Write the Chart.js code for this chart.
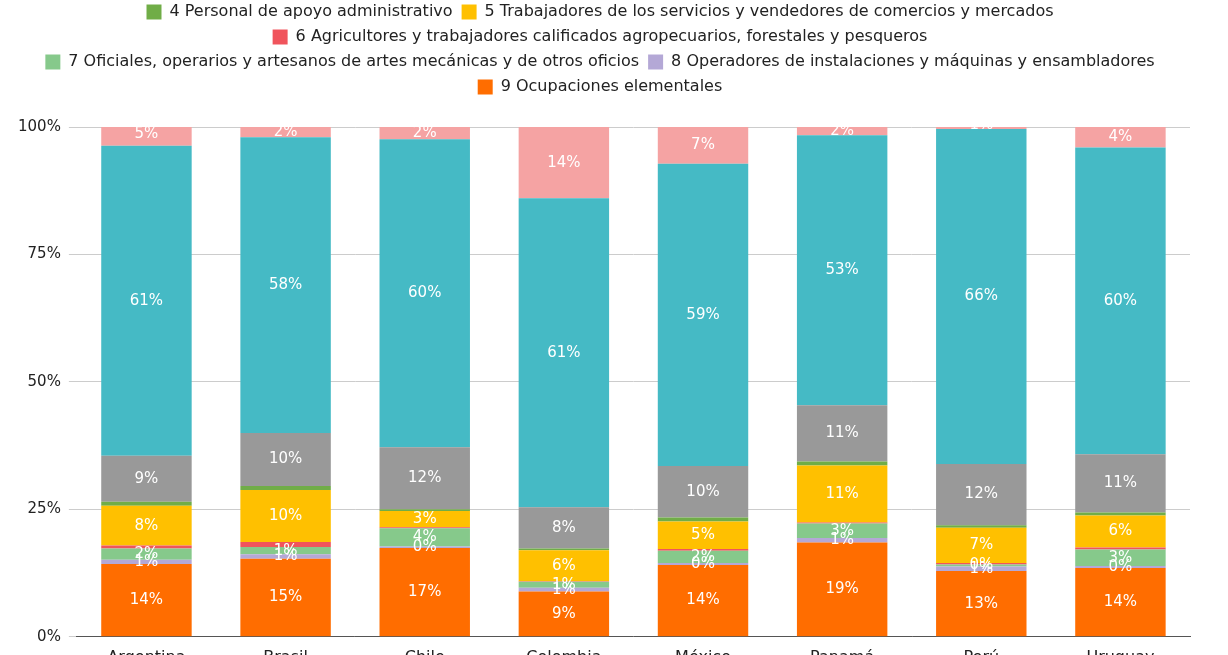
<!DOCTYPE html>
<html>
<head>
<meta charset="utf-8">
<script src="https://cdn.jsdelivr.net/npm/chart.js@4/dist/chart.umd.min.js"></script>
<style>
  body { margin: 0; background: #fff; overflow: hidden; }
  .wrap { position: absolute; left: 0; top: -30px; width: 1228px; height: 700px; }
</style>
</head>
<body>
<div class="wrap"><canvas class="chart"></canvas></div>
<script>
const countries = ["Argentina", "Brasil", "Chile", "Colombia", "México", "Panamá", "Perú", "Uruguay"];

const names = [
  "1 Directores y gerentes",
  "2 Profesionales científicos e intelectuales",
  "3 Técnicos y profesionales de nivel medio",
  "4 Personal de apoyo administrativo",
  "5 Trabajadores de los servicios y vendedores de comercios y mercados",
  "6 Agricultores y trabajadores calificados agropecuarios, forestales y pesqueros",
  "7 Oficiales, operarios y artesanos de artes mecánicas y de otros oficios",
  "8 Operadores de instalaciones y máquinas y ensambladores",
  "9 Ocupaciones elementales",
];
const colors = ["#f5a3a3", "#45bac5", "#999999", "#70ad47", "#ffc000", "#f0545c", "#86c98b", "#b4a8d6", "#ff6d00"];

// percentages per group, one value per country
const g1 = [4.5, 2.0, 2.4, 14.0, 7.2, 1.6, 1.4, 4.0];
const g2 = [60.8, 58.0, 60.4, 60.6, 59.3, 53.0, 65.7, 60.2];
const g3 = [9.0, 10.4, 12.2, 8.1, 10.1, 11.0, 12.0, 11.4];
const g4 = [0.8, 0.8, 0.3, 0.3, 0.8, 0.8, 0.5, 0.6];
const g5 = [7.8, 10.2, 3.2, 6.1, 5.4, 11.2, 6.9, 6.3];
const g6 = [0.6, 1.0, 0.2, 0.1, 0.3, 0.2, 0.3, 0.4];
const g7 = [2.2, 1.4, 3.6, 1.2, 2.4, 2.8, 0.4, 3.2];
const g8 = [0.8, 0.9, 0.3, 0.7, 0.4, 0.9, 0.9, 0.4];
const g9 = [14.3, 15.3, 17.4, 8.9, 14.1, 18.5, 12.9, 13.5];
const groups = [g1, g2, g3, g4, g5, g6, g7, g8, g9];
const noLabel = [3, 5];

const segLabels = {
  id: "segLabels",
  afterDatasetsDraw(chart) {
    const ctx = chart.ctx;
    ctx.save();
    ctx.font = "15px 'DejaVu Sans'";
    ctx.fillStyle = "#ffffff";
    ctx.textAlign = "center";
    ctx.textBaseline = "middle";
    chart.data.datasets.forEach((ds, i) => {
      if (noLabel.includes(8 - i)) return;
      chart.getDatasetMeta(i).data.forEach((bar, j) => {
        const y = (bar.y + bar.base) / 2;
        ctx.fillText(Math.round(ds.data[j]) + "%", bar.x, y);
      });
    });
    ctx.restore();
  },
};

const legendPad = {
  id: "legendPad",
  beforeInit(chart) {
    const fit = chart.legend.fit;
    chart.legend.fit = function () {
      fit.bind(chart.legend)();
      this.height += 22;
    };
  },
};

// stacked bottom to top: 9 ... 1
const datasets = [];
for (let i = 8; i >= 0; i--) {
  datasets.push({
    label: names[i],
    data: groups[i],
    backgroundColor: colors[i],
  });
}

new Chart(document.getElementsByClassName("chart")[0], {
  type: "bar",
  data: { labels: countries, datasets: datasets },
  plugins: [segLabels, legendPad],
  options: {
    responsive: true,
    maintainAspectRatio: false,
    animation: false,
    layout: { padding: { left: 10, right: 38, top: 0 } },
    datasets: { bar: { categoryPercentage: 0.65, barPercentage: 1 } },
    plugins: {
      tooltip: { enabled: false },
      legend: {
        position: "top",
        reverse: true,
        labels: {
          font: { family: "DejaVu Sans", size: 16 },
          color: "#222",
          boxWidth: 15,
          boxHeight: 15,
          padding: 9,
        },
      },
    },
    scales: {
      x: {
        stacked: true,
        grid: { display: false },
        border: { color: "#555" },
        ticks: { font: { family: "DejaVu Sans", size: 16 }, color: "#222" },
      },
      y: {
        stacked: true,
        min: 0,
        max: 100,
        border: { display: false },
        grid: { color: "#cccccc" },
        ticks: {
          stepSize: 25,
          font: { family: "DejaVu Sans", size: 15 },
          color: "#222",
          padding: 8,
          callback: (v) => v + "%",
        },
      },
    },
  },
});
</script>
</body>
</html>
